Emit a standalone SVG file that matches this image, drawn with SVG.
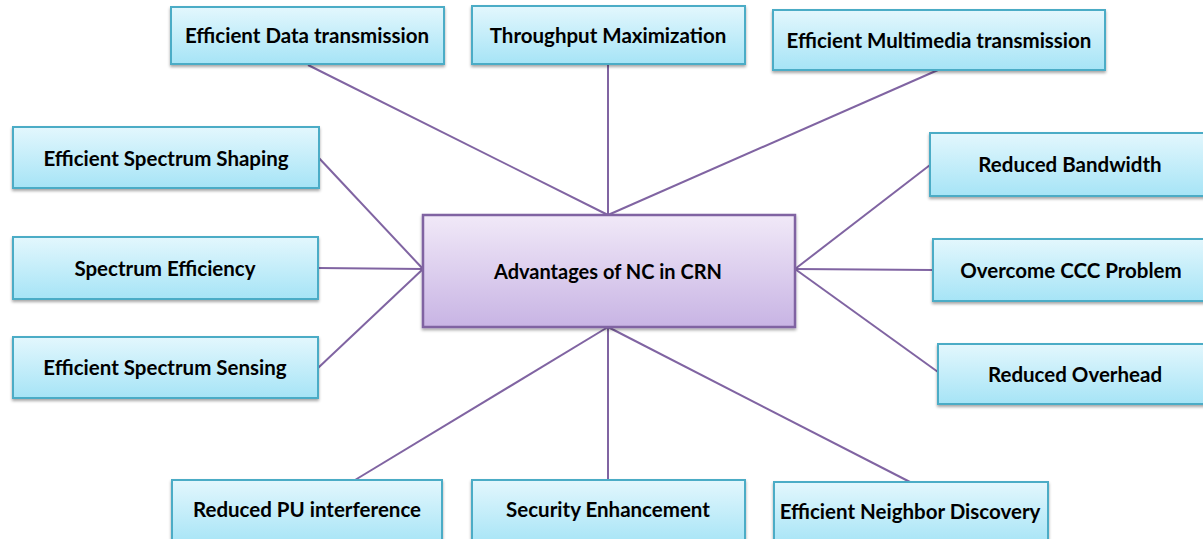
<svg xmlns="http://www.w3.org/2000/svg" width="1203" height="539" viewBox="0 0 1203 539">
<defs>
<linearGradient id="gb" x1="0" y1="0" x2="0" y2="1"><stop offset="0" stop-color="#e3f7fd"/><stop offset="1" stop-color="#a6e4f6"/></linearGradient>
<linearGradient id="gc" x1="0" y1="0" x2="0" y2="1"><stop offset="0" stop-color="#f1e9f8"/><stop offset="1" stop-color="#c8b4e4"/></linearGradient>
<filter id="sh" x="-5%" y="-10%" width="110%" height="130%"><feDropShadow dx="0" dy="2" stdDeviation="1.5" flood-color="#000" flood-opacity="0.35"/></filter>
</defs>
<style>
.b{fill:url(#gb);stroke:#4bacc6;stroke-width:2;filter:url(#sh)}
.c{fill:url(#gc);stroke:#8064a2;stroke-width:2.5;filter:url(#sh)}
.t{font-family:Lato,"Open Sans","Liberation Sans",sans-serif;font-weight:bold;font-size:20.5px;fill:#000;text-anchor:middle;dominant-baseline:central}
.l{stroke:#8064a2;stroke-width:2;fill:none}
</style>
<rect width="1203" height="539" fill="#fff"/>
<g id="connectors">
<line class="l" x1="608" y1="215" x2="308" y2="65"/>
<line class="l" x1="608" y1="215" x2="608" y2="65"/>
<line class="l" x1="608" y1="215" x2="938" y2="70"/>
<line class="l" x1="423" y1="269" x2="318" y2="157"/>
<line class="l" x1="423" y1="269" x2="318" y2="268"/>
<line class="l" x1="423" y1="269" x2="318" y2="368"/>
<line class="l" x1="795" y1="269" x2="930" y2="165"/>
<line class="l" x1="795" y1="269" x2="933" y2="270"/>
<line class="l" x1="795" y1="269" x2="938" y2="372"/>
<line class="l" x1="608" y1="327" x2="355" y2="480"/>
<line class="l" x1="608" y1="327" x2="608" y2="480"/>
<line class="l" x1="608" y1="327" x2="910" y2="482"/>
</g>
<g id="center"><rect class="c" x="423" y="215" width="372" height="112"/><text class="t" x="608" y="271" style="font-size:20px">Advantages of NC in CRN</text></g>
<g id="n1"><rect class="b" x="171" y="7" width="273" height="57"/><text class="t" x="307" y="35">Efficient Data transmission</text></g>
<g id="n2"><rect class="b" x="472" y="6" width="273" height="58"/><text class="t" x="608" y="35">Throughput Maximization</text></g>
<g id="n3"><rect class="b" x="773" y="10" width="332" height="60"/><text class="t" x="939" y="40">Efficient Multimedia transmission</text></g>
<g id="n4"><rect class="b" x="13" y="127" width="306" height="61"/><text class="t" x="166" y="158">Efficient Spectrum Shaping</text></g>
<g id="n5"><rect class="b" x="13" y="237" width="305" height="62"/><text class="t" x="165" y="268">Spectrum Efficiency</text></g>
<g id="n6"><rect class="b" x="13" y="337" width="305" height="61"/><text class="t" x="165" y="367">Efficient Spectrum Sensing</text></g>
<g id="n7"><rect class="b" x="930" y="133" width="280" height="63"/><text class="t" x="1070" y="164">Reduced Bandwidth</text></g>
<g id="n8"><rect class="b" x="933" y="239" width="277" height="62"/><text class="t" x="1071" y="270">Overcome CCC Problem</text></g>
<g id="n9"><rect class="b" x="938" y="344" width="272" height="60"/><text class="t" x="1075" y="374">Reduced Overhead</text></g>
<g id="n10"><rect class="b" x="172" y="480" width="270" height="65"/><text class="t" x="307" y="509">Reduced PU interference</text></g>
<g id="n11"><rect class="b" x="472" y="480" width="273" height="65"/><text class="t" x="608" y="509">Security Enhancement</text></g>
<g id="n12"><rect class="b" x="774" y="482" width="274" height="63"/><text class="t" x="910" y="511">Efficient Neighbor Discovery</text></g>
</svg>
